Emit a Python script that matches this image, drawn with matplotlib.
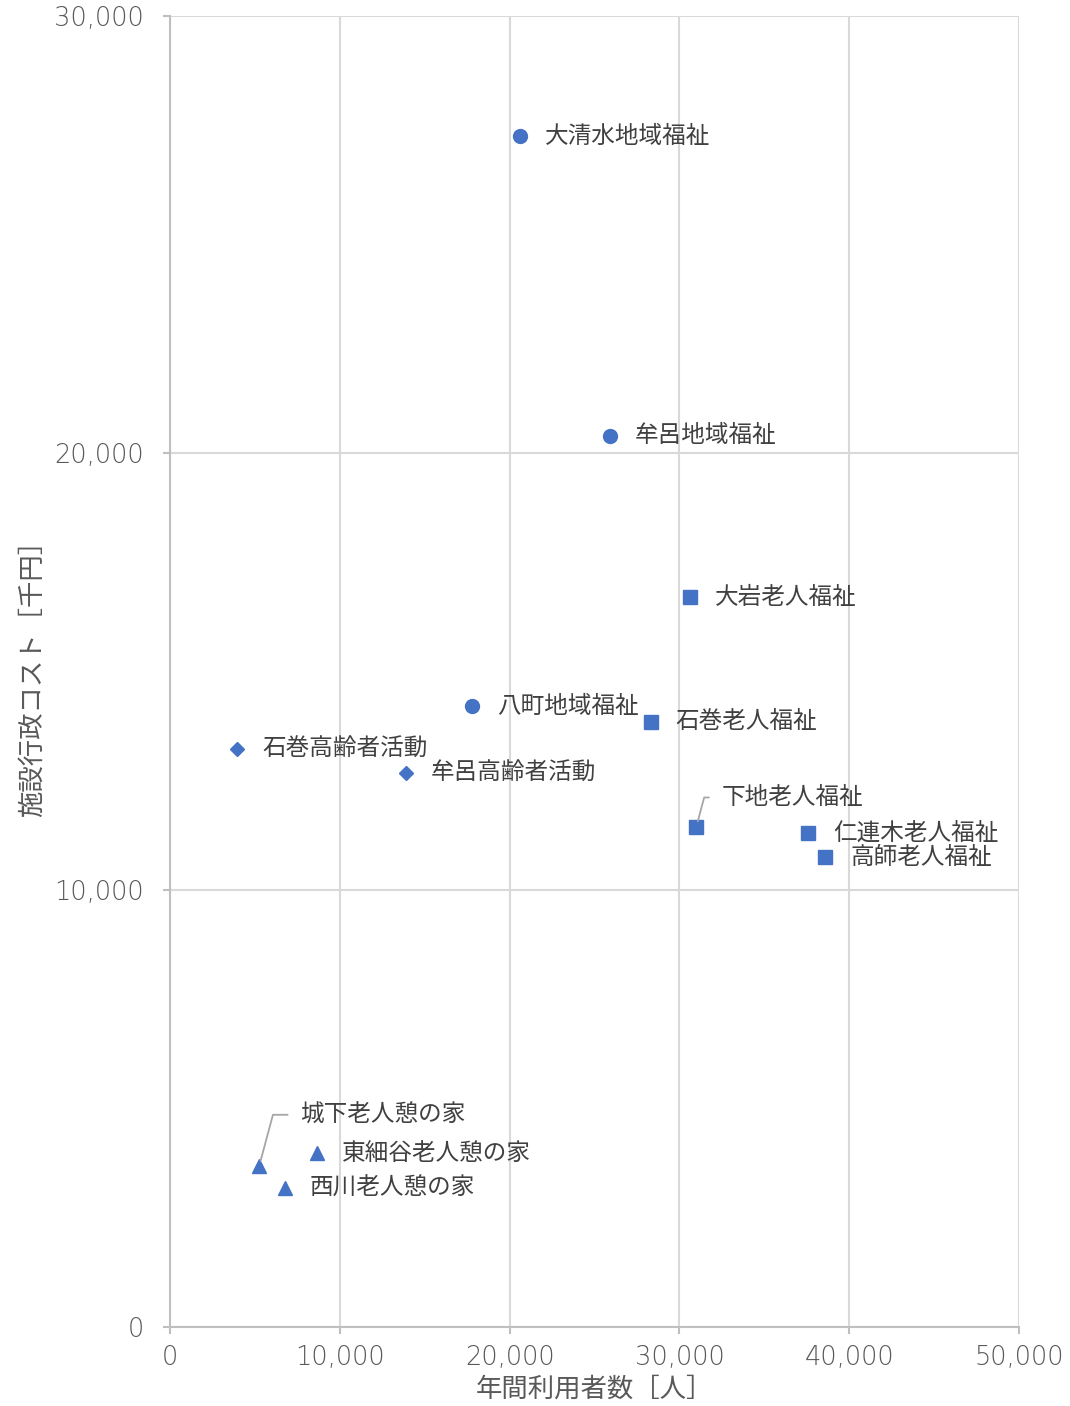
import matplotlib
matplotlib.use("Agg")
import matplotlib.pyplot as plt
from matplotlib.ticker import FuncFormatter

plt.rcParams["font.family"] = ["Noto Sans CJK JP", "DejaVu Sans"]

BLUE = "#4472C4"
GRID = "#D9D9D9"
AXIS = "#BFBFBF"
TICK_TEXT = "#595959"
LABEL_TEXT = "#404040"

# 地域福祉 (circles)
chiiki_names = ["大清水地域福祉", "牟呂地域福祉", "八町地域福祉"]
chiiki_x = [20600, 25900, 17800]
chiiki_y = [27250, 20400, 14200]

# 老人福祉 (squares)
rojin_names = ["大岩老人福祉", "石巻老人福祉", "下地老人福祉", "仁連木老人福祉", "高師老人福祉"]
rojin_x = [30600, 28300, 31000, 37600, 38600]
rojin_y = [16700, 13850, 11450, 11300, 10750]

# 高齢者活動 (diamonds)
koreisha_names = ["石巻高齢者活動", "牟呂高齢者活動"]
koreisha_x = [3950, 13900]
koreisha_y = [13230, 12680]

# 老人憩の家 (triangles)
ikoi_names = ["城下老人憩の家", "東細谷老人憩の家", "西川老人憩の家"]
ikoi_x = [5250, 8650, 6750]
ikoi_y = [3680, 3980, 3180]

# labels that sit away from their marker with a leader line (offset in points)
LEADER = {"下地老人福祉": (18, 21), "城下老人憩の家": (29.5, 37)}

fig = plt.figure(figsize=(10.7, 14.06), dpi=100)
ax = fig.add_axes([0.1589, 0.0562, 0.7934, 0.9324])

groups = [
    (chiiki_names, chiiki_x, chiiki_y, "o", 10),
    (rojin_names, rojin_x, rojin_y, "s", 9.5),
    (koreisha_names, koreisha_x, koreisha_y, "D", 7.5),
    (ikoi_names, ikoi_x, ikoi_y, "^", 10.5),
]

for names, xs, ys, mk, ms in groups:
    ax.plot(xs, ys, linestyle="none", marker=mk, markersize=ms,
            color=BLUE, markeredgecolor=BLUE, zorder=3, clip_on=False)
    for name, x, y in zip(names, xs, ys):
        if name in LEADER:
            dx, dy = LEADER[name]
            ax.annotate(name, xy=(x, y), xytext=(dx, dy), textcoords="offset points",
                        ha="left", va="center", fontsize=17, color=LABEL_TEXT,
                        arrowprops=dict(arrowstyle="-", color="#A6A6A6", lw=1.3,
                                        relpos=(0, 0.5), shrinkA=7, shrinkB=4,
                                        connectionstyle="angle,angleA=0,angleB=75,rad=0"))
        else:
            ax.annotate(name, xy=(x, y), xytext=(18, 0), textcoords="offset points",
                        ha="left", va="center", fontsize=17, color=LABEL_TEXT)

ax.set_xlim(0, 50000)
ax.set_ylim(0, 30000)
ax.set_xticks(range(0, 50001, 10000))
ax.set_yticks(range(0, 30001, 10000))
fmt = FuncFormatter(lambda v, p: f"{int(v):,}")
ax.xaxis.set_major_formatter(fmt)
ax.yaxis.set_major_formatter(fmt)

ax.grid(True, color=GRID, linewidth=1.5, zorder=0)
ax.set_axisbelow(True)
for side in ["top", "right"]:
    ax.spines[side].set_visible(False)
for side in ["left", "bottom"]:
    ax.spines[side].set_color(AXIS)
    ax.spines[side].set_linewidth(1.5)

ax.tick_params(axis="both", colors=AXIS, length=5, width=1.5, labelsize=18.5,
               labelcolor=TICK_TEXT)
ax.tick_params(axis="y", pad=14)
ax.tick_params(axis="x", pad=8)
for lab in ax.get_xticklabels() + ax.get_yticklabels():
    lab.set_fontfamily("DejaVu Sans")
    lab.set_fontweight("light")

ax.set_xlabel("年間利用者数［人］", fontsize=19, color=TICK_TEXT, labelpad=4)
ax.set_ylabel("施設行政コスト［千円］", fontsize=19, color=TICK_TEXT, labelpad=6)

fig.savefig("out.png", dpi=100, facecolor="white")
